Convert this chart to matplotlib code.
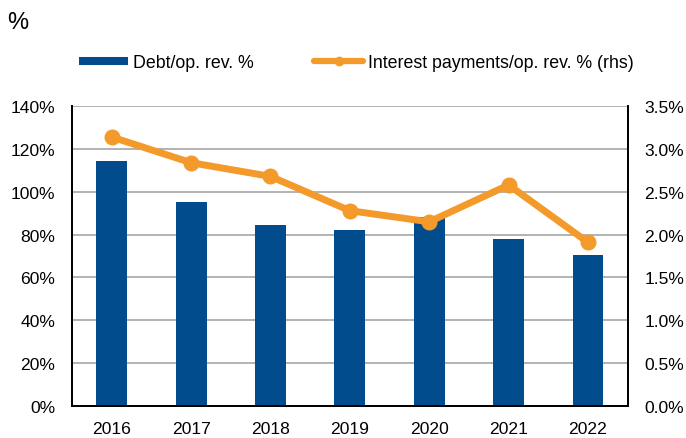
import numpy as np
import matplotlib.pyplot as plt
from matplotlib.lines import Line2D

plt.rcParams['font.family'] = ['Liberation Sans', 'DejaVu Sans']

#%% data
years = ['2016', '2017', '2018', '2019', '2020', '2021', '2022']
debt_pct = [114.6, 95.2, 84.6, 82.0, 88.4, 77.8, 70.3]
interest_pct = [3.14, 2.84, 2.68, 2.28, 2.15, 2.58, 1.91]

left_ticks = [0, 20, 40, 60, 80, 100, 120, 140]
right_ticks = [0.0, 0.5, 1.0, 1.5, 2.0, 2.5, 3.0, 3.5]

bar_col = '#004C8C'
line_col = '#F39A2B'

#%% plot
fig = plt.figure(figsize=(6.86, 4.39), dpi=100)
ax = fig.add_axes([0.105, 0.0729, 0.81, 0.683])
ax2 = ax.twinx()

x = np.arange(len(years))
ax.bar(x, debt_pct, width=0.39, color=bar_col, zorder=2)
ax.set_xlim(-0.5, len(years) - 0.5)
ax.set_ylim(0, 140)
ax.set_yticks(left_ticks, labels=[f'{v}%' for v in left_ticks])
ax.set_xticks(x, labels=years)
ax.yaxis.grid(True, color='#A6A6A6', lw=1.2, zorder=0)
ax.set_axisbelow(True)

ax2.plot(x, interest_pct, color=line_col, lw=5, marker='o', ms=10.5,
         solid_capstyle='round', zorder=3)
ax2.set_ylim(0, 3.5)
ax2.set_yticks(right_ticks, labels=[f'{v:.1f}%' for v in right_ticks])

for a in (ax, ax2):
    a.spines['top'].set_visible(False)
    a.tick_params(length=0, labelsize=12.6)
    for s in ('left', 'right', 'bottom'):
        a.spines[s].set_color('black')
        a.spines[s].set_linewidth(1.3)
ax.tick_params(axis='y', pad=12)
ax.tick_params(axis='x', pad=11)
ax2.tick_params(axis='y', pad=12)

handles = [Line2D([], [], color=bar_col, lw=5.8, solid_capstyle='butt'),
           Line2D([], [], color=line_col, lw=4.5, marker='o', ms=6,
                  solid_capstyle='round')]
fig.legend(handles, ['Debt/op. rev. %', 'Interest payments/op. rev. % (rhs)'],
           loc='center left', bbox_to_anchor=(0.092, 0.855), ncol=2,
           frameon=False, fontsize=12.8, handlelength=2.75,
           handletextpad=0.28, columnspacing=3.4)

fig.text(0.01, 0.948, '%', fontsize=17, va='center', ha='left')

fig.savefig('out.png', dpi=100)
